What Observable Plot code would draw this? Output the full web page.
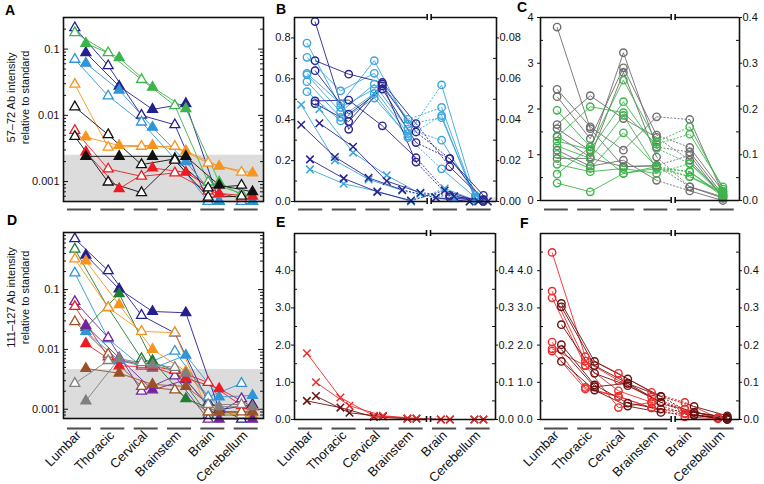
<!DOCTYPE html>
<html><head><meta charset="utf-8">
<script src="https://cdn.jsdelivr.net/npm/d3@7"></script>
<script src="https://cdn.jsdelivr.net/npm/@observablehq/plot@0.6"></script>
<style>
body{margin:0;background:#fff;}
#wrap{position:relative;width:764px;height:484px;overflow:hidden;font-family:"Liberation Sans",Arial,Helvetica,sans-serif;background:#fff;}
.letter{position:absolute;font-weight:bold;font-size:14px;line-height:14px;color:#000;}
</style></head>
<body><div id="wrap"></div>
<script>
// ---------- DATA ----------
const categories = ["Lumbar","Thoracic","Cervical","Brainstem","Brain","Cerebellum"];
const titleA = "57–72 Ab intensity\nrelative to standard";
const titleD = "111–127 Ab intensity\nrelative to standard";
const panelLetters = ["A","B","C","D","E","F"];
const logTickLabels = [0.001, 0.01, 0.1];
const bLeftTicks = [0, 0.2, 0.4, 0.6, 0.8];
const cLeftTicks = [0, 1, 2, 3, 4];
const efLeftTicks = [0, 1, 2, 3, 4];

// Panel A (log scale): open & filled triangles
const aOpenKeys = ["navy","green","lblue","orange","red","black","black"];
const aOpen = [
  [0.21, 0.056, 0.0100, 0.0072, 0.0005, 0.0005],
  [0.177, 0.088, 0.0346, 0.0140, 0.00098, 0.00066],
  [0.070, 0.0196, 0.0079, 0.0022, 0.0005, 0.0005],
  [0.0294, 0.0033, 0.0034, 0.0034, 0.0019, 0.00138],
  [0.0059, 0.00155, 0.0012, 0.00135, 0.00072, 0.00056],
  [0.0134, 0.0051, 0.0018, 0.0022, 0.0008, 0.00088],
  [0.0048, 0.00098, 0.00068, 0.0021, 0.00058, 0.0006]
];
const aFilledKeys = ["navy","green","lblue","orange","red","black"];
const aFilled = [
  [0.088, 0.0275, 0.0123, 0.0150, 0.0005, 0.0005],
  [0.122, 0.074, 0.0265, 0.0126, 0.00098, 0.0005],
  [0.061, 0.024, 0.0066, 0.0020, 0.0005, 0.0005],
  [0.0047, 0.0035, 0.0035, 0.0029, 0.0017, 0.00135],
  [0.0028, 0.00078, 0.0016, 0.00138, 0.00066, 0.0006],
  [0.0024, 0.0024, 0.0024, 0.0024, 0.00088, 0.0007]
];
const aBand = [0.0005, 0.0025];

// Panel D (log scale)
const dKeys = ["navy","dkgreen","orange","lblue","purple","red","brown","grey"];
const dOpen = [
  [0.705, 0.207, 0.037, 0.0188, 0.0013, 0.00068],
  [0.474, 0.0496, 0.0070, 0.0045, 0.0008, 0.0008],
  [0.324, 0.050, 0.020, 0.019, 0.0009, 0.0008],
  [0.189, 0.015, 0.0052, 0.0093, 0.0016, 0.0027],
  [0.063, 0.0157, 0.0020, 0.0036, 0.00068, 0.0015],
  [0.052, 0.0075, 0.0055, 0.0045, 0.0028, 0.00115],
  [0.029, 0.0083, 0.0024, 0.0021, 0.0009, 0.0009],
  [0.0027, 0.0065, 0.0060, 0.0050, 0.0012, 0.0012]
];
const dFilled = [
  [0.377, 0.102, 0.043, 0.041, 0.00098, 0.0012],
  [0.023, 0.085, 0.0065, 0.0015, 0.0009, 0.0009],
  [0.30, 0.056, 0.010, 0.0043, 0.0009, 0.0008],
  [0.020, 0.0065, 0.0048, 0.0080, 0.0016, 0.0017],
  [0.025, 0.0072, 0.0021, 0.0031, 0.00068, 0.00068],
  [0.0125, 0.0053, 0.0051, 0.0033, 0.0022, 0.0011],
  [0.0048, 0.0040, 0.0026, 0.0024, 0.0009, 0.0009],
  [0.00138, 0.0070, 0.0055, 0.0040, 0.0011, 0.0011]
];
const dBand = [0.0007, 0.0046];

// Panel B (Lumbar..Brainstem left axis; Brain, Cerebellum right axis)
const bLightCircles = [
  [0.775, 0.460, 0.550, 0.332, 0.057, 0.002],
  [0.705, 0.541, 0.627, 0.402, 0.046, 0.001],
  [0.627, 0.479, 0.689, 0.378, 0.041, 0.0015],
  [0.620, 0.438, 0.574, 0.353, 0.030, 0.003],
  [0.586, 0.411, 0.528, 0.312, 0.016, 0.002],
  [0.537, 0.394, 0.506, 0.320, 0.042, 0.001]
];
const bDarkCircles = [
  [0.880, 0.353, 0.566, 0.340, 0.021, 0.003],
  [0.689, 0.623, 0.582, 0.381, 0.017, 0.001],
  [0.640, 0.427, 0.550, 0.288, 0.021, 0.0005],
  [0.492, 0.496, 0.370, 0.214, 0.003, 0.0],
  [0.479, 0.391, 0.575, 0.193, 0.002, 0.0002]
];
const bLightCrosses = [
  [0.473, 0.201, 0.108, 0.054, 0.0018, 0.0],
  [0.157, 0.087, 0.050, 0.000, 0.0064, 0.0],
  [0.452, 0.239, 0.128, 0.038, 0.0015, 0.0]
];
const bDarkCrosses = [
  [0.375, 0.218, 0.116, 0.057, 0.0018, 0.0],
  [0.206, 0.113, 0.047, 0.005, 0.0054, 0.0],
  [0.383, 0.268, 0.100, 0.043, 0.0026, 0.0]
];
const bBand = [0, 0.0018];

// Panel C
const cGrey = [
  [3.79, 1.57, 0.74, 0.76, 0.099, 0.005],
  [2.43, 1.61, 1.10, 1.83, 0.177, 0.015],
  [2.27, 1.35, 2.90, 1.43, 0.116, 0.020],
  [1.66, 2.29, 1.79, 1.38, 0.088, 0.010],
  [1.57, 1.09, 3.23, 1.17, 0.106, 0.012],
  [1.41, 0.95, 2.80, 0.95, 0.030, 0.005],
  [1.10, 0.75, 0.88, 0.44, 0.021, 0.000],
  [0.92, 0.92, 0.74, 0.76, 0.030, 0.008]
];
const cGreen = [
  [1.97, 1.17, 2.63, 1.28, 0.161, 0.025],
  [1.39, 2.05, 1.92, 1.23, 0.145, 0.030],
  [1.30, 1.11, 2.16, 1.14, 0.081, 0.018],
  [1.19, 0.92, 1.86, 0.70, 0.063, 0.012],
  [1.01, 0.70, 1.48, 0.74, 0.052, 0.020],
  [0.79, 0.63, 0.70, 0.59, 0.081, 0.010],
  [0.575, 1.17, 0.59, 0.70, 0.052, 0.015],
  [0.38, 0.19, 0.59, 0.74, 0.063, 0.008]
];

// Panel E
const eRed = [
  [1.78, 0.59, 0.10, 0.03, 0.0, 0.0],
  [1.00, 0.37, 0.10, 0.03, 0.0, 0.0]
];
const eDark = [
  [0.50, 0.32, 0.07, 0.02, 0.0, 0.0],
  [0.63, 0.18, 0.08, 0.02, 0.0, 0.0]
];

// Panel F
const fRed = [
  [4.49, 1.69, 1.24, 0.73, 0.046, 0.004],
  [3.45, 1.57, 1.05, 0.60, 0.028, 0.003],
  [3.27, 1.45, 0.77, 0.46, 0.016, 0.005],
  [2.08, 0.86, 0.62, 0.31, 0.007, 0.002],
  [1.90, 1.45, 0.32, 0.46, 0.028, 0.004],
  [1.84, 0.82, 0.62, 0.31, 0.016, 0.003]
];
const fDark = [
  [3.12, 1.56, 1.09, 0.62, 0.035, 0.010],
  [3.03, 1.45, 0.97, 0.46, 0.019, 0.005],
  [2.55, 1.24, 0.91, 0.46, 0.012, 0.000],
  [2.01, 0.93, 0.44, 0.28, 0.019, 0.006],
  [1.88, 0.88, 0.97, 0.62, 0.012, 0.003],
  [1.56, 0.79, 0.36, 0.19, 0.012, 0.000]
];

// ---------- STYLE ----------
const palette = {navy:"#241f8e", green:"#3cb44b", lblue:"#2f95d6", orange:"#f7941d", red:"#ec1c24",
  black:"#111111", dkgreen:"#1f7d36", purple:"#76239b", brown:"#9a5128", grey:"#808080"};
const colB = {light:"#3aa6dc", dark:"#2a2490"};
const colC = {grey:"#6e6e6e", green:"#3fb54c"};
const colR = {red:"#ee2b2b", dark:"#6a1010"};
const FONT = '"Liberation Sans", Arial, Helvetica, sans-serif';
const wrap = document.getElementById("wrap");

function grp(list, colorOf, offsetOf, kind) {
  return list.map((v, i) => ({values: v, color: colorOf(i), offset: offsetOf(i), kind}));
}

function tickRules(values, side, dir, len) {
  const xv = side === "left" ? 0 : 6;
  const extLeft = (side === "left") === (dir === "out");
  return Plot.ruleY(values, {x1: () => xv, x2: () => xv,
    insetLeft: extLeft ? -len : 0, insetRight: extLeft ? 0 : -len, strokeWidth: 1});
}

function buildPanel(p) {
  const mL = 50, mT = 8, mR = p.mR, mB = p.mB;
  const [yMin, yMax] = p.y.domain;
  const ratio = p.ratio || 0;
  const pts = [], segs = [];
  for (const s of p.series) {
    const P = s.values.map((v, i) => ({x: i + s.offset, y: ratio && i >= 4 ? v * ratio : v, color: s.color, kind: s.kind}));
    P.forEach(q => pts.push(q));
    for (let i = 0; i < P.length - 1; i++)
      segs.push({x1: P[i].x, y1: P[i].y, x2: P[i+1].x, y2: P[i+1].y, color: s.color, dashed: !!ratio && i === 3});
  }
  const marks = [];
  if (p.band) marks.push(Plot.rect([p.band], {x1: () => p.bandX[0], x2: () => p.bandX[1],
    y1: d => d[0] * (p.bandRatio || 1), y2: d => d[1] * (p.bandRatio || 1), fill: "#dcdcdc"}));
  marks.push(Plot.link(segs.filter(d => !d.dashed), {x1: "x1", y1: "y1", x2: "x2", y2: "y2", stroke: d => d.color, strokeWidth: 0.9}));
  marks.push(Plot.link(segs.filter(d => d.dashed), {x1: "x1", y1: "y1", x2: "x2", y2: "y2", stroke: d => d.color, strokeWidth: 0.9, strokeDasharray: "2,1.5"}));
  const sym = {
    triOpen: {symbol: "triangle", r: 3.7, fill: "white", strokeWidth: 1.3},
    triFill: {symbol: "triangle", r: 3.7, fill: d => d.color, strokeWidth: 1.3},
    circ: {symbol: "circle", r: 3.7, fill: "none", strokeWidth: 1.4},
    cross: {symbol: "times", r: 3.5, fill: "none", strokeWidth: 1.5}
  };
  for (const k of Object.keys(sym)) {
    const d = pts.filter(q => q.kind === k);
    if (d.length) marks.push(Plot.dot(d, {x: "x", y: "y", stroke: q => q.color, ...sym[k]}));
  }
  // frame
  if (!ratio) {
    marks.push(Plot.frame({strokeWidth: 1.6}));
  } else {
    const g = 0.06;
    marks.push(Plot.ruleX([0, 6], {strokeWidth: 1.6}));
    marks.push(Plot.ruleY([yMin, yMax], {x1: () => 0, x2: () => 4 - g, strokeWidth: 1.6}));
    marks.push(Plot.ruleY([yMin, yMax], {x1: () => 4 + g, x2: () => 6, strokeWidth: 1.6}));
    marks.push(Plot.ruleX([4 - g, 4 + g], {y1: () => yMax, y2: () => yMax, insetTop: -3, insetBottom: -3, strokeWidth: 1.6}));
    marks.push(Plot.ruleX([4 - g, 4 + g], {y1: () => yMin, y2: () => yMin, insetTop: -3, insetBottom: -3, strokeWidth: 1.6}));
  }
  // ticks
  for (const t of p.ticks) marks.push(tickRules(t.values, t.side, t.dir, t.len));
  // tick labels
  for (const a of p.axes) marks.push(Plot.axisY({anchor: a.anchor, ticks: a.ticks, tickSize: 0, tickPadding: a.pad,
    tickFormat: a.format, label: null, fontSize: 11}));
  // category dashes
  marks.push(Plot.ruleY(categories, {y: () => yMin, x1: (d, i) => i + 0.12, x2: (d, i) => i + 0.84,
    dy: p.dashDy, stroke: "#4d4d4d", strokeWidth: 2}));
  if (p.labels) marks.push(Plot.text(categories, {x: (d, i) => i + 0.5, frameAnchor: "bottom", rotate: -45,
    textAnchor: "end", lineAnchor: "top", dx: p.labelDx, dy: p.labelDy, fontSize: 13, fill: "#111"}));
  if (p.title) marks.push(Plot.text([p.title], {frameAnchor: "left", rotate: -90, textAnchor: "middle",
    lineAnchor: "middle", lineHeight: 1.3, dx: p.titleDx, dy: p.titleDy, fontSize: 11, fill: "#111"}));

  const svg = Plot.plot({
    width: p.fr - p.fl + mL + mR, height: p.fb - p.ft + mT + mB,
    marginLeft: mL, marginRight: mR, marginTop: mT, marginBottom: mB,
    x: {domain: [0, 6], axis: null},
    y: p.y,
    style: {background: "transparent", overflow: "visible", fontFamily: FONT, fontSize: "11px", color: "#111"},
    marks
  });
  svg.style.position = "absolute";
  svg.style.left = (p.fl - mL) + "px";
  svg.style.top = (p.ft - mT) + "px";
  wrap.appendChild(svg);
}

function logMinor(domain) {
  const s = d3.scaleLog().domain(domain);
  return s.ticks().filter(v => !logTickLabels.includes(v));
}
function logTickSet(domain) {
  const minor = logMinor(domain);
  return [
    {values: logTickLabels, side: "left", dir: "in", len: 5},
    {values: minor, side: "left", dir: "in", len: 3},
    {values: logTickLabels, side: "right", dir: "in", len: 5},
    {values: minor, side: "right", dir: "in", len: 3}
  ];
}
function linTickSet(major, minor) {
  return [
    {values: major, side: "left", dir: "out", len: 3},
    {values: minor, side: "left", dir: "in", len: 3},
    {values: major, side: "right", dir: "out", len: 3},
    {values: minor, side: "right", dir: "in", len: 3}
  ];
}
const mids = t => t.slice(0, -1).map((v, i) => (v + t[i + 1]) / 2);

// ---------- PANELS ----------
const aDomain = [0.0005, 0.3];
buildPanel({fl: 63, fr: 263, ft: 17, fb: 201, mR: 30, mB: 16, dashDy: 8,
  y: {type: "log", domain: aDomain},
  series: grp(aOpen, i => palette[aOpenKeys[i]], () => 0.34, "triOpen")
    .concat(grp(aFilled, i => palette[aFilledKeys[i]], () => 0.67, "triFill")),
  band: aBand, bandX: [0, 6],
  ticks: logTickSet(aDomain),
  axes: [{anchor: "left", ticks: logTickLabels, pad: 4, format: d => String(d)}],
  title: titleA, titleDx: -46, titleDy: -12});

const bCrossOffsets = [0.2, 0.46, 0.74];
buildPanel({fl: 294, fr: 496, ft: 17, fb: 201, mR: 30, mB: 16, dashDy: 8, ratio: 10,
  y: {domain: [0, 0.9]},
  series: grp(bLightCrosses, () => colB.light, i => bCrossOffsets[i], "cross")
    .concat(grp(bDarkCrosses, () => colB.dark, i => bCrossOffsets[i], "cross"))
    .concat(grp(bLightCircles, () => colB.light, () => 0.37, "circ"))
    .concat(grp(bDarkCircles, () => colB.dark, () => 0.61, "circ")),
  band: bBand, bandX: [4.06, 6], bandRatio: 10,
  ticks: linTickSet(bLeftTicks, mids(bLeftTicks)),
  axes: [{anchor: "left", ticks: bLeftTicks, pad: 4, format: d => d.toFixed(1)},
         {anchor: "right", ticks: bLeftTicks, pad: 3, format: d => (d / 10).toFixed(2)}]});

buildPanel({fl: 540, fr: 739, ft: 17, fb: 200, mR: 24, mB: 16, dashDy: 9, ratio: 10,
  y: {domain: [0, 4]},
  series: grp(cGrey, () => colC.grey, () => 0.5, "circ")
    .concat(grp(cGreen, () => colC.green, () => 0.5, "circ")),
  ticks: linTickSet(cLeftTicks, mids(cLeftTicks)),
  axes: [{anchor: "left", ticks: cLeftTicks, pad: 7, format: d => String(d)},
         {anchor: "right", ticks: cLeftTicks, pad: 3, format: d => (d / 10).toFixed(1)}]});

const dDomain = [0.0007, 0.9];
buildPanel({fl: 63, fr: 263, ft: 232, fb: 418, mR: 30, mB: 66, dashDy: 10,
  y: {type: "log", domain: dDomain},
  series: grp(dOpen, i => palette[dKeys[i]], () => 0.34, "triOpen")
    .concat(grp(dFilled, i => palette[dKeys[i]], () => 0.67, "triFill")),
  band: dBand, bandX: [0, 6],
  ticks: logTickSet(dDomain),
  axes: [{anchor: "left", ticks: logTickLabels, pad: 4, format: d => String(d)}],
  labels: true, labelDx: -5, labelDy: 11,
  title: titleD, titleDx: -46, titleDy: -28});

const eOffsets = [0.37, 0.64];
buildPanel({fl: 294, fr: 495, ft: 233, fb: 419, mR: 30, mB: 65, dashDy: 9, ratio: 10,
  y: {domain: [0, 5]},
  series: grp(eDark, () => colR.dark, i => eOffsets[i], "cross")
    .concat(grp(eRed, () => colR.red, i => eOffsets[i], "cross")),
  ticks: linTickSet(efLeftTicks, mids(efLeftTicks).concat([4.5])),
  axes: [{anchor: "left", ticks: efLeftTicks, pad: 4, format: d => d.toFixed(1)},
         {anchor: "right", ticks: efLeftTicks, pad: 3, format: d => (d / 10).toFixed(1)}],
  labels: true, labelDx: -4, labelDy: 10});

buildPanel({fl: 540, fr: 739, ft: 233, fb: 419, mR: 24, mB: 65, dashDy: 9, ratio: 10,
  y: {domain: [0, 5]},
  series: grp(fRed, () => colR.red, () => 0.35, "circ")
    .concat(grp(fDark, () => colR.dark, () => 0.63, "circ")),
  ticks: linTickSet(efLeftTicks, mids(efLeftTicks).concat([4.5])),
  axes: [{anchor: "left", ticks: efLeftTicks, pad: 8, format: d => d.toFixed(1)},
         {anchor: "right", ticks: efLeftTicks, pad: 4, format: d => (d / 10).toFixed(1)}],
  labels: true, labelDx: -4, labelDy: 10});

// panel letters
const letterPos = [[5, 3], [276, 2], [517, 0], [7, 213], [276, 215], [520, 216]];
panelLetters.forEach((L, i) => {
  const el = document.createElement("div");
  el.className = "letter";
  el.textContent = L;
  el.style.left = letterPos[i][0] + "px";
  el.style.top = letterPos[i][1] + "px";
  wrap.appendChild(el);
});
</script>
</body></html>
